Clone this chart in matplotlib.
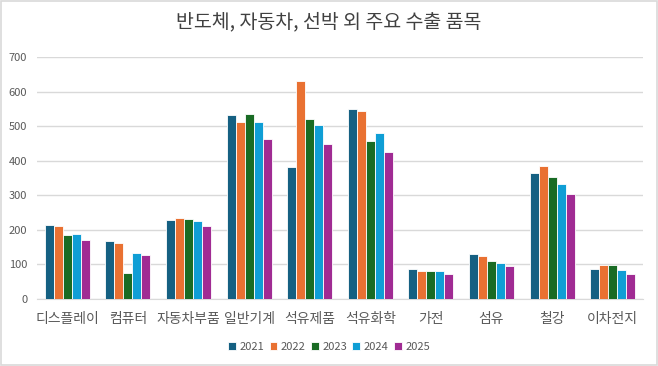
import numpy as np
import matplotlib.pyplot as plt
from matplotlib.patches import Rectangle

plt.rcParams['font.family'] = ['Noto Sans CJK KR', 'DejaVu Sans']

categories = ['디스플레이', '컴퓨터', '자동차부품', '일반기계', '석유제품',
              '석유화학', '가전', '섬유', '철강', '이차전지']
years = ['2021', '2022', '2023', '2024', '2025']
v2021 = [214, 167, 229, 531, 381, 550, 87, 129, 364, 87]
v2022 = [212, 161, 234, 512, 630, 544, 81, 123, 385, 99]
v2023 = [186, 74, 230, 535, 522, 456, 81, 109, 353, 98]
v2024 = [188, 132, 225, 513, 502, 479, 81, 105, 333, 83]
v2025 = [170, 128, 211, 464, 449, 425, 73, 96, 304, 71]
colors = ['#156082', '#E97132', '#196B24', '#0F9ED5', '#A02B93']

series = [v2021, v2022, v2023, v2024, v2025]

fig = plt.figure(figsize=(6.58, 3.66), dpi=100)
ax = fig.add_axes([37 / 658, 1 - 299 / 366, 606 / 658, 242 / 366])

x = np.arange(len(categories))
w = 0.148
for i, (vals, c, yr) in enumerate(zip(series, colors, years)):
    ax.bar(x + (i - 2) * w, vals, width=w, color=c, edgecolor='white',
           linewidth=0.6, label=yr, zorder=3)

ax.set_xlim(-0.5, len(categories) - 0.5)
ax.set_ylim(0, 700)
ax.set_yticks(range(0, 701, 100))
ax.grid(axis='y', color='#d9d9d9', linewidth=1, zorder=0)
for s in ax.spines.values():
    s.set_visible(False)
ax.spines['bottom'].set_visible(True)
ax.spines['bottom'].set_color('#d9d9d9')
ax.tick_params(axis='both', length=0, colors='#595959')
ax.tick_params(axis='y', labelsize=8, pad=7)
ax.set_xticks(x)
ax.set_xticklabels(categories, fontsize=10)
ax.tick_params(axis='x', pad=9)

fig.text(0.5, 1 - 22 / 366, '반도체, 자동차, 선박 외 주요 수출 품목',
         ha='center', va='center', fontsize=14, color='#404040')

leg = fig.legend(loc='center', bbox_to_anchor=(0.5, 1 - 347 / 366), ncol=5,
                 frameon=False, fontsize=8, handlelength=0.7, handleheight=0.7,
                 handletextpad=0.3, columnspacing=0.5, labelcolor='#595959')

fig.patches.append(Rectangle((0.002, 0.003), 0.996, 0.994, transform=fig.transFigure,
                             fill=False, edgecolor='#d9d9d9', linewidth=1.2))

fig.savefig('out.png', dpi=100)
